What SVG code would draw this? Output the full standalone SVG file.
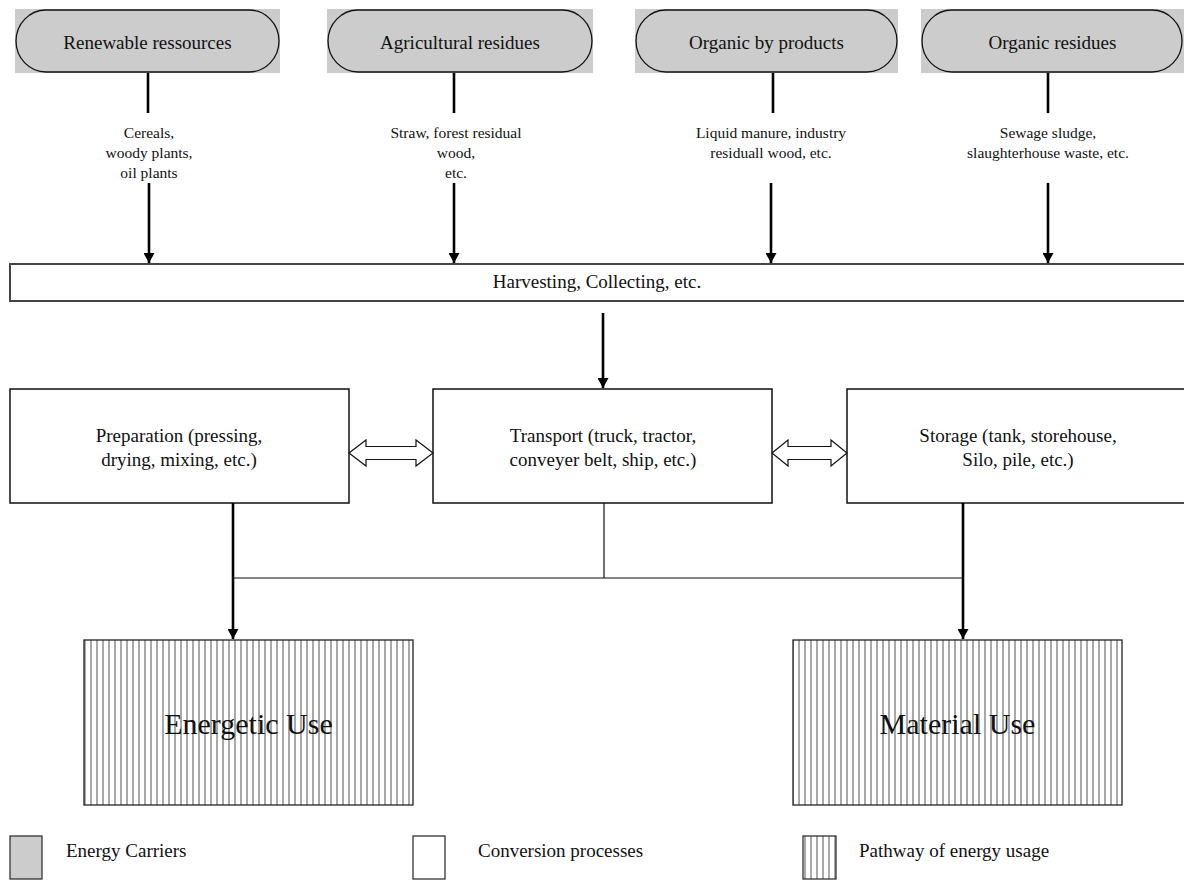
<svg xmlns="http://www.w3.org/2000/svg" width="1184" height="880" viewBox="0 0 1184 880">
<style>
text{font-family:"Liberation Serif","Times New Roman",serif;fill:#111;text-anchor:middle}
.t19{font-size:19px}
.t15{font-size:15.5px}
.big{font-size:30px}
.leg{font-size:19px;text-anchor:start}
.ovbg{fill:#cccccc}
.ov{fill:none;stroke:#111;stroke-width:1.3}
.box{fill:#fff;stroke:#111;stroke-width:1.5}
.arr{stroke:#000;stroke-width:2.6;fill:none}
.thin{stroke:#111;stroke-width:1.2;fill:none}
.dbl{fill:#fff;stroke:#111;stroke-width:1.2}
.use{fill:url(#vstripe);stroke:#222;stroke-width:1.3}
</style>
<defs>
<marker id="ah" markerUnits="userSpaceOnUse" markerWidth="11" markerHeight="11" refX="10" refY="5.5" orient="auto">
<path d="M0,0 L10,5.5 L0,11 z" fill="#000"/>
</marker>
<pattern id="vstripe" patternUnits="userSpaceOnUse" width="6" height="10">
<rect width="6" height="10" fill="#fff"/>
<rect x="0" width="2" height="10" fill="#a9a9a9"/>
</pattern>
</defs>
<rect width="1184" height="880" fill="#fff"/>

<g id="node-renewable">
<rect class="ovbg" x="15" y="9" width="265" height="64"/>
<path class="ov" d="M46,10 H249 A30,31 0 0 1 249,72 H46 A30,31 0 0 1 46,10 Z"/>
<text class="t19" x="147.5" y="49">Renewable ressources</text>
</g>
<g id="node-agricultural">
<rect class="ovbg" x="327" y="9" width="266" height="64"/>
<path class="ov" d="M358,10 H562 A30,31 0 0 1 562,72 H358 A30,31 0 0 1 358,10 Z"/>
<text class="t19" x="460" y="49">Agricultural residues</text>
</g>
<g id="node-byproducts">
<rect class="ovbg" x="635" y="9" width="263" height="64"/>
<path class="ov" d="M666,10 H867 A30,31 0 0 1 867,72 H666 A30,31 0 0 1 666,10 Z"/>
<text class="t19" x="766.5" y="49">Organic by products</text>
</g>
<g id="node-residues">
<rect class="ovbg" x="921" y="9" width="263" height="64"/>
<path class="ov" d="M952,10 H1152 A30,31 0 0 1 1152,72 H952 A30,31 0 0 1 952,10 Z"/>
<text class="t19" x="1052.5" y="49">Organic residues</text>
</g>

<g id="labels">
<text class="t15" x="149" y="138">Cereals,</text>
<text class="t15" x="149" y="158">woody plants,</text>
<text class="t15" x="149" y="178">oil plants</text>
<text class="t15" x="456" y="138">Straw, forest residual</text>
<text class="t15" x="456" y="158">wood,</text>
<text class="t15" x="456" y="178">etc.</text>
<text class="t15" x="771" y="138">Liquid manure, industry</text>
<text class="t15" x="771" y="158">residuall wood, etc.</text>
<text class="t15" x="1048" y="138">Sewage sludge,</text>
<text class="t15" x="1048" y="158">slaughterhouse waste, etc.</text>
</g>

<g id="node-harvesting">
<rect x="10" y="264" width="1190" height="37" fill="#fff" stroke="#444" stroke-width="2"/>
<text class="t19" x="597" y="288">Harvesting, Collecting, etc.</text>
</g>

<g id="node-preparation">
<rect class="box" x="10" y="389" width="339" height="114"/>
<text class="t19" x="179" y="442">Preparation (pressing,</text>
<text class="t19" x="179" y="466">drying, mixing, etc.)</text>
</g>
<g id="node-transport">
<rect class="box" x="433" y="389" width="339" height="114"/>
<text class="t19" x="603" y="442">Transport (truck, tractor,</text>
<text class="t19" x="603" y="466">conveyer belt, ship, etc.)</text>
</g>
<g id="node-storage">
<rect class="box" x="847" y="389" width="350" height="114"/>
<text class="t19" x="1018" y="442">Storage (tank, storehouse,</text>
<text class="t19" x="1018" y="466">Silo, pile, etc.)</text>
</g>

<g id="node-energetic">
<rect class="use" x="84" y="640" width="329" height="165"/>
<text class="big" x="248.5" y="734">Energetic Use</text>
</g>
<g id="node-material">
<rect class="use" x="793" y="640" width="329" height="165"/>
<text class="big" x="957.5" y="734">Material Use</text>
</g>

<g id="connectors">
<line class="arr" x1="148" y1="73" x2="148" y2="113"/>
<line class="arr" x1="454" y1="73" x2="454" y2="113"/>
<line class="arr" x1="773" y1="73" x2="773" y2="113"/>
<line class="arr" x1="1048" y1="73" x2="1048" y2="113"/>
<line class="arr" x1="149" y1="183" x2="149" y2="263" marker-end="url(#ah)"/>
<line class="arr" x1="454" y1="183" x2="454" y2="263" marker-end="url(#ah)"/>
<line class="arr" x1="771" y1="183" x2="771" y2="263" marker-end="url(#ah)"/>
<line class="arr" x1="1048" y1="183" x2="1048" y2="263" marker-end="url(#ah)"/>
<line class="arr" x1="603" y1="313" x2="603" y2="388" marker-end="url(#ah)"/>
<polygon class="dbl" points="349,453 366,440 366,446.5 416,446.5 416,440 433,453 416,466 416,459.5 366,459.5 366,466"/>
<polygon class="dbl" points="772,453 788,440 788,446.5 831,446.5 831,440 847,453 831,466 831,459.5 788,459.5 788,466"/>
<line class="thin" x1="604" y1="503" x2="604" y2="578"/>
<line class="thin" x1="233" y1="578" x2="963" y2="578"/>
<line class="arr" x1="233" y1="503" x2="233" y2="639" marker-end="url(#ah)"/>
<line class="arr" x1="963" y1="503" x2="963" y2="639" marker-end="url(#ah)"/>
</g>

<g id="legend">
<rect x="10" y="836" width="32" height="43" fill="#cccccc" stroke="#333" stroke-width="1.3"/>
<text class="leg" x="66" y="857">Energy Carriers</text>
<rect x="413" y="836" width="32" height="43" fill="#fff" stroke="#333" stroke-width="1.3"/>
<text class="leg" x="478" y="857">Conversion processes</text>
<rect x="803" y="836" width="33" height="43" fill="url(#vstripe)" stroke="#333" stroke-width="1.3"/>
<text class="leg" x="859" y="857">Pathway of energy usage</text>
</g>
</svg>
